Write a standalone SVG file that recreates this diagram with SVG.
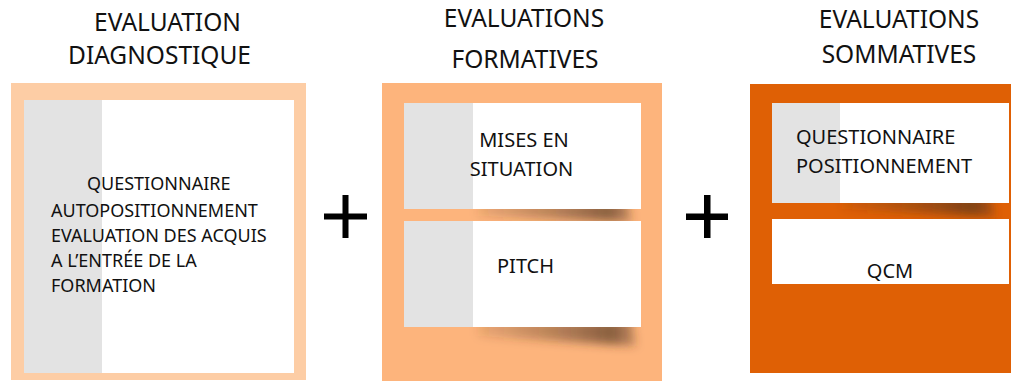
<svg xmlns="http://www.w3.org/2000/svg" width="1011" height="381" viewBox="0 0 1011 381">
  <defs>
    <style>
      .title { font-family: "Noto Sans", "Open Sans", sans-serif; font-size: 24.5px; fill: #111; text-anchor: middle; }
      .t18 { font-family: "Noto Sans", "Open Sans", sans-serif; font-size: 18px; fill: #111; }
      .t20 { font-family: "Noto Sans", "Open Sans", sans-serif; font-size: 20px; fill: #111; }
      .card { fill: #ffffff; }
      .gray { fill: #e3e3e3; }
      .plus { fill: #000; }
    </style>
    <filter id="blur" x="-20%" y="-100%" width="140%" height="300%">
      <feGaussianBlur stdDeviation="5"/>
    </filter>
    <linearGradient id="shd" x1="0" y1="0" x2="1" y2="0">
      <stop offset="0" stop-color="#4a3020" stop-opacity="0.1"/>
      <stop offset="0.5" stop-color="#4a3020" stop-opacity="0.4"/>
      <stop offset="0.85" stop-color="#4a3020" stop-opacity="0.65"/>
      <stop offset="1" stop-color="#4a3020" stop-opacity="0.3"/>
    </linearGradient>
  </defs>
  <rect width="1011" height="381" fill="#ffffff"/>

  <g id="title-diagnostique">
    <text class="title" x="167.5" y="31">EVALUATION</text>
    <text class="title" x="159.5" y="64">DIAGNOSTIQUE</text>
  </g>
  <g id="title-formatives">
    <text class="title" x="524" y="27">EVALUATIONS</text>
    <text class="title" x="525" y="68">FORMATIVES</text>
  </g>
  <g id="title-sommatives">
    <text class="title" x="899" y="28">EVALUATIONS</text>
    <text class="title" x="899" y="63">SOMMATIVES</text>
  </g>

  <g id="box-diagnostique">
    <rect x="11" y="83" width="295" height="297" fill="#fdcda5"/>
    <rect class="card" x="24" y="100" width="270" height="273"/>
    <rect class="gray" x="24" y="100" width="78" height="273"/>
    <text class="t18" x="87" y="190">QUESTIONNAIRE</text>
    <text class="t18" x="51" y="217">AUTOPOSITIONNEMENT</text>
    <text class="t18" x="51" y="242">EVALUATION DES ACQUIS</text>
    <text class="t18" x="51" y="267">A L’ENTRÉE DE LA</text>
    <text class="t18" x="51" y="292">FORMATION</text>
  </g>

  <g id="box-formatives">
    <rect x="382" y="83" width="280" height="298" fill="#fdb47c"/>
    <polygon points="478,202 628,202 632,222 478,216" fill="url(#shd)" filter="url(#blur)"/>
    <polygon points="478,320 632,320 636,346 478,336" fill="url(#shd)" filter="url(#blur)"/>
    <g id="card-mises">
      <rect class="card" x="404" y="103" width="237" height="106"/>
      <rect class="gray" x="404" y="103" width="69" height="106"/>
      <text class="t20" x="524" y="147" text-anchor="middle">MISES EN</text>
      <text class="t20" x="521.5" y="176" text-anchor="middle">SITUATION</text>
    </g>
    <g id="card-pitch">
      <rect class="card" x="404" y="221" width="237" height="106"/>
      <rect class="gray" x="404" y="221" width="69" height="106"/>
      <text class="t20" x="497" y="273">PITCH</text>
    </g>
  </g>

  <g id="box-sommatives">
    <rect x="750" y="84" width="261" height="289" fill="#df6005"/>
    <polygon points="842,196 990,196 996,217 842,209" fill="url(#shd)" filter="url(#blur)"/>
    <g id="card-questionnaire">
      <rect class="card" x="772" y="103" width="237" height="100"/>
      <rect class="gray" x="772" y="103" width="68" height="100"/>
      <text class="t20" x="796" y="144">QUESTIONNAIRE</text>
      <text class="t20" x="796" y="173">POSITIONNEMENT</text>
    </g>
    <g id="card-qcm">
      <rect class="card" x="772" y="219" width="237" height="65"/>
      <text class="t20" x="890" y="278" text-anchor="middle">QCM</text>
    </g>
  </g>

  <g id="connectors">
    <g id="plus-1">
      <rect class="plus" x="324" y="213.5" width="43" height="6"/>
      <rect class="plus" x="342.5" y="195" width="6" height="43"/>
    </g>
    <g id="plus-2">
      <rect class="plus" x="686" y="213.5" width="42" height="6.5"/>
      <rect class="plus" x="704" y="195" width="6.5" height="43"/>
    </g>
  </g>
</svg>
